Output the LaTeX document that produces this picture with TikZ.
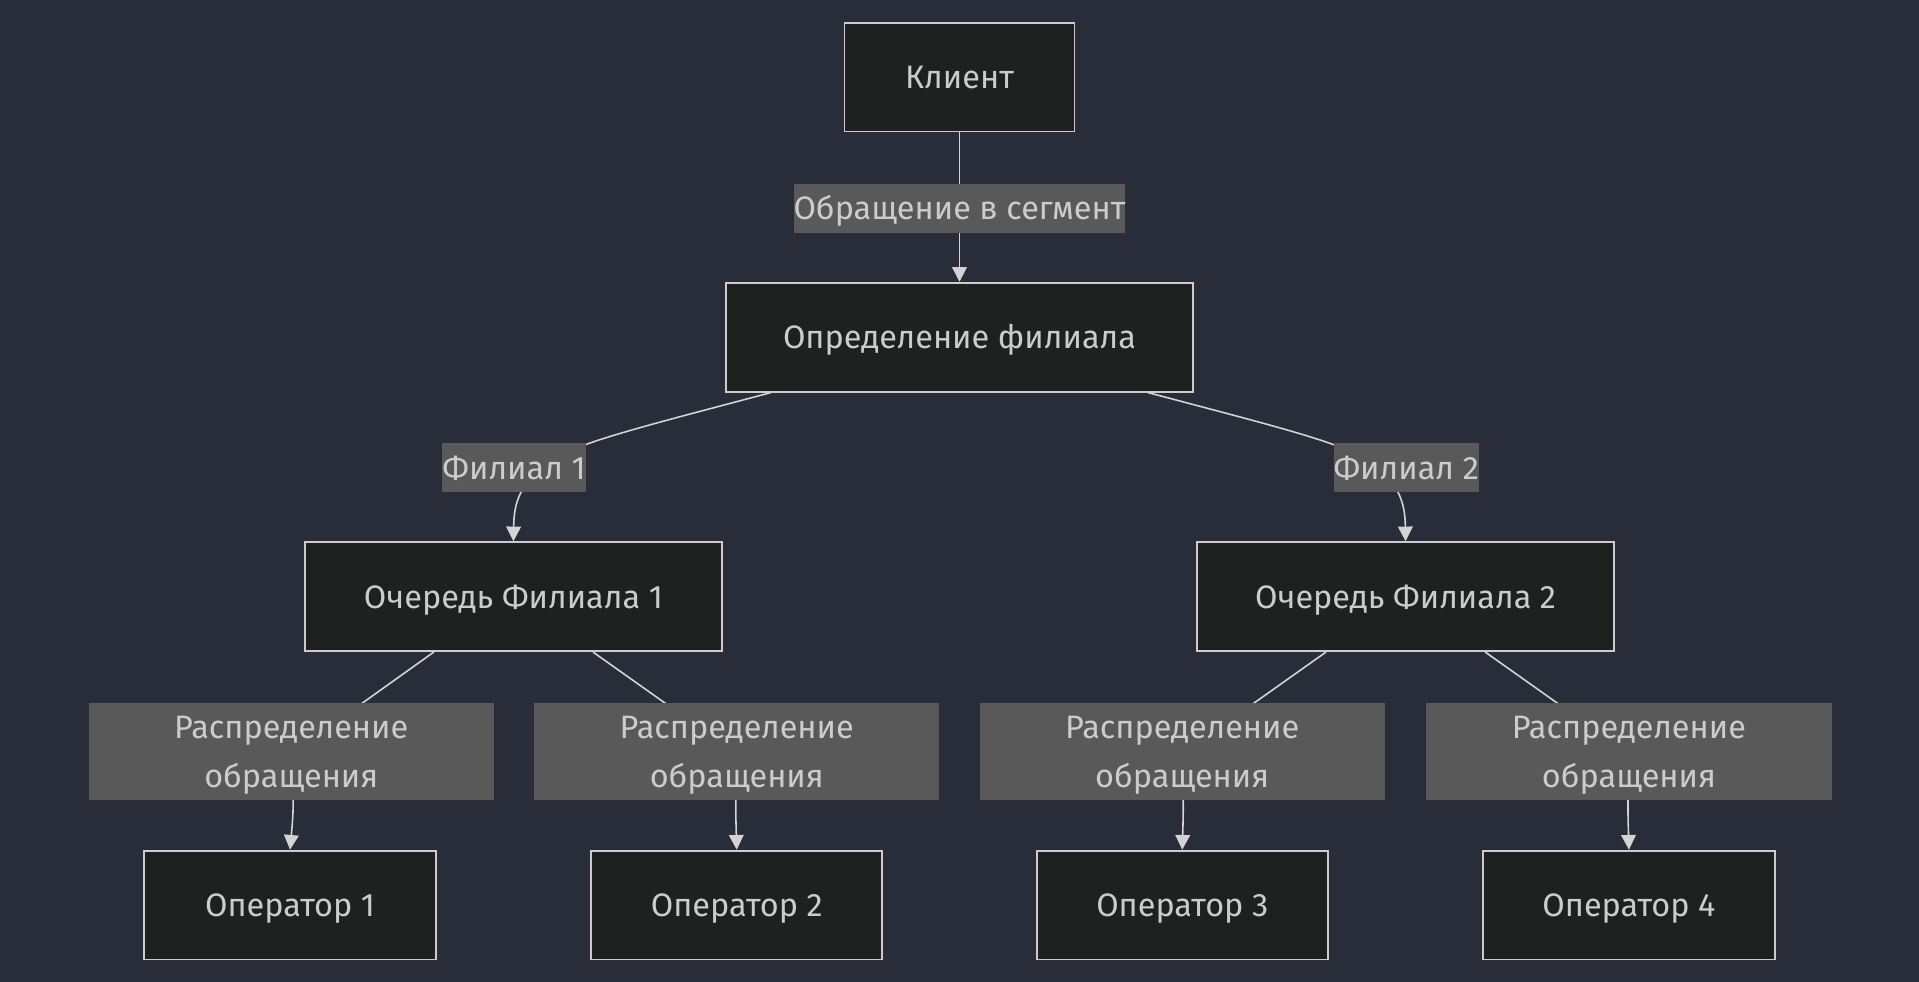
\documentclass[tikz,border=0pt]{standalone}
\usepackage{fontspec}
\setmainfont{Fira Sans}
\usetikzlibrary{arrows.meta}
\definecolor{bg}{HTML}{292D3A}
\definecolor{boxfill}{HTML}{1F2020}
\definecolor{boxline}{HTML}{CCCCCC}
\definecolor{labfill}{HTML}{595959}
\definecolor{txt}{HTML}{CCCCCC}
\definecolor{edgecol}{HTML}{D3D3D3}
\tikzset{
  box/.style={draw=boxline, fill=boxfill, line width=1.5pt, text=txt, inner sep=0pt,
    minimum height=89pt, text height=19pt, text depth=0pt, font=\fontsize{26.5}{32}\selectfont},
  elabel/.style={fill=labfill, text=txt, inner sep=0pt, minimum height=40pt,
    text height=19pt, text depth=0pt, font=\fontsize{26.5}{32}\selectfont},
  biglabel/.style={fill=labfill, text=txt, inner sep=0pt, minimum height=79pt, minimum width=331pt,
    align=center, text height=59pt, text depth=0pt, font=\fontsize{26.5}{40}\selectfont},
  edge/.style={draw=edgecol, line width=1.3pt, -{Triangle[length=12pt,width=12pt]}},
}
\begin{document}
\begin{tikzpicture}[x=1pt,y=-1pt]
\fill[bg] (0,0) rectangle (1568,802);
\useasboundingbox (0,0) rectangle (1568,802);

\node[box, minimum width=188pt] (klient) at (784,63) {Клиент};
\node[box, minimum width=381pt] (opr) at (784,275.5) {Определение филиала};
\node[box, minimum width=341pt] (och1) at (419.5,487.5) {Очередь Филиала 1};
\node[box, minimum width=341pt] (och2) at (1148.5,487.5) {Очередь Филиала 2};
\node[box, minimum width=238pt] (op1) at (237,739.5) {Оператор 1};
\node[box, minimum width=238pt] (op2) at (602,739.5) {Оператор 2};
\node[box, minimum width=238pt] (op3) at (966,739.5) {Оператор 3};
\node[box, minimum width=238pt] (op4) at (1331,739.5) {Оператор 4};

\coordinate (c0) at (784,170);
\coordinate (c1) at (420,382);
\coordinate (c2) at (1149,382);
\coordinate (c3) at (238,616);
\coordinate (c4) at (602,616);
\coordinate (c5) at (966,616);
\coordinate (c6) at (1331,616);
\coordinate (b1) at (448,378);
\coordinate (b2) at (1120,378);

\draw[edge] (klient) -- (opr);
\draw[edge] ([xshift=-154pt]opr.south) .. controls (520,350) and (470,362) .. (b1)
  .. controls (425,395) and (420,410) .. (och1.north);
\draw[edge] ([xshift=154pt]opr.south) .. controls (1048,350) and (1098,362) .. (b2)
  .. controls (1143,395) and (1148,410) .. (och2.north);
\draw[edge] ([xshift=-65pt]och1.south) -- (c3) .. controls (240,660) .. (op1.north);
\draw[edge] ([xshift=65pt]och1.south) -- (c4) .. controls (601,660) .. (op2.north);
\draw[edge] ([xshift=-65pt]och2.south) -- (c5) .. controls (967,660) .. (op3.north);
\draw[edge] ([xshift=65pt]och2.south) -- (c6) .. controls (1330,660) .. (op4.north);

\node[elabel, minimum width=269pt] (l0) at (c0) {Обращение в сегмент};
\node[elabel, minimum width=116pt] (l1) at (c1) {Филиал 1};
\node[elabel, minimum width=116pt] (l2) at (c2) {Филиал 2};
\node[biglabel] (l3) at (238,614) {Распределение\\обращения};
\node[biglabel] (l4) at (602,614) {Распределение\\обращения};
\node[biglabel] (l5) at (966,614) {Распределение\\обращения};
\node[biglabel] (l6) at (1331,614) {Распределение\\обращения};
\end{tikzpicture}
\end{document}
